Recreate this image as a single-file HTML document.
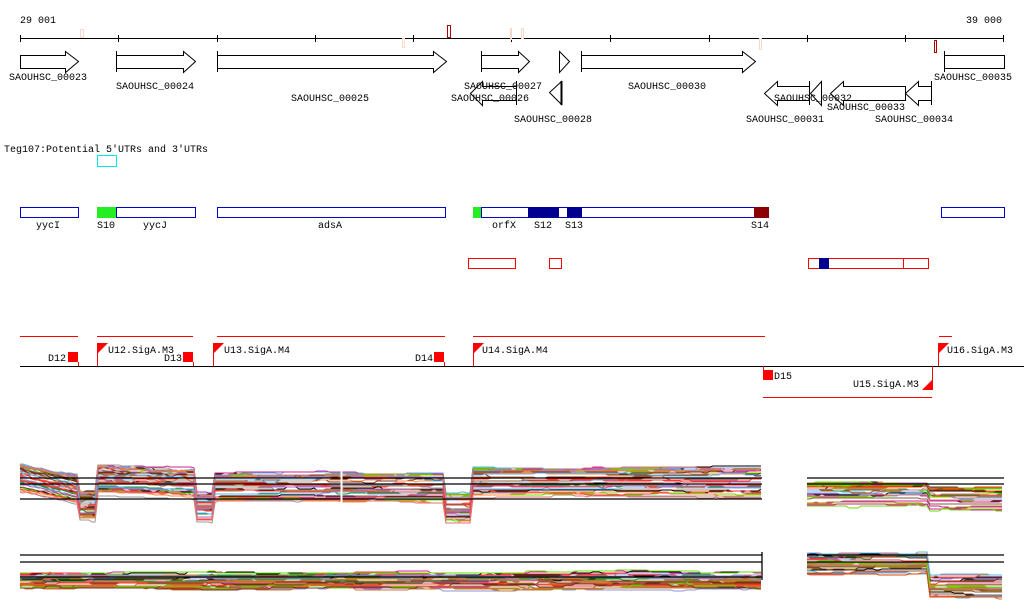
<!DOCTYPE html>
<html><head><meta charset="utf-8"><style>
html,body{margin:0;padding:0;background:#fff;}
svg{display:block;}
text{font-family:"Liberation Mono",monospace;font-size:10px;fill:#000;}
</style></head><body>
<svg id="s" width="1024" height="611" viewBox="0 0 1024 611" xmlns="http://www.w3.org/2000/svg">
<text x="20" y="23">29 001</text>
<text x="966" y="23">39 000</text>
<line x1="20" y1="38.5" x2="1004" y2="38.5" stroke="#000"/>
<g stroke="#000">
<line x1="20.5" y1="35" x2="20.5" y2="42"/><line x1="118.5" y1="35" x2="118.5" y2="42"/><line x1="217.5" y1="35" x2="217.5" y2="42"/><line x1="315.5" y1="35" x2="315.5" y2="42"/><line x1="413.5" y1="35" x2="413.5" y2="42"/><line x1="511.5" y1="35" x2="511.5" y2="42"/><line x1="610.5" y1="35" x2="610.5" y2="42"/><line x1="709.5" y1="35" x2="709.5" y2="42"/><line x1="807.5" y1="35" x2="807.5" y2="42"/><line x1="905.5" y1="35" x2="905.5" y2="42"/><line x1="1003.5" y1="35" x2="1003.5" y2="42"/>
</g>
<g fill="none">
<rect x="80.5" y="29.5" width="3" height="8" stroke="#f8d8c8"/>
<rect x="402.5" y="38.5" width="2" height="9" stroke="#f8d8c8"/>
<rect x="447.5" y="25.5" width="3" height="12" stroke="#b00000"/>
<rect x="510.5" y="28.5" width="1" height="11" stroke="#f8d8c8"/>
<rect x="521.5" y="28.5" width="2" height="10" stroke="#f8d8c8"/>
<rect x="759.5" y="38.5" width="2" height="11" stroke="#f8d8c8"/>
<rect x="934.5" y="40.5" width="2" height="12" stroke="#b00000"/>
</g>
<g fill="#fff" stroke="#000">
<polygon points="20.5,55.5 65.5,55.5 65.5,51.5 78.5,61.5 65.5,72.5 65.5,68.5 20.5,68.5"/>
<polygon points="116.5,55.5 183.5,55.5 183.5,51.5 195.5,61.5 183.5,72.5 183.5,68.5 116.5,68.5"/>
<line x1="116.5" y1="51" x2="116.5" y2="72"/>
<polygon points="217.5,55.5 433.5,55.5 433.5,51.5 446.5,61.5 433.5,72.5 433.5,68.5 217.5,68.5"/>
<line x1="217.5" y1="51" x2="217.5" y2="72"/>
<polygon points="481.5,55.5 518.5,55.5 518.5,51.5 529.5,61.5 518.5,72.5 518.5,68.5 481.5,68.5"/>
<line x1="481.5" y1="51" x2="481.5" y2="72"/>
<polygon points="516.5,86.5 482.5,86.5 482.5,81.5 470.5,93.5 482.5,105.5 482.5,100.5 516.5,100.5"/>
<line x1="516.5" y1="81" x2="516.5" y2="105"/>
<polygon points="559.5,51.5 569.5,61.5 559.5,72.5"/>
<polygon points="561.5,81.5 549.5,92.5 561.5,104.5"/>
<line x1="561.5" y1="81" x2="561.5" y2="105" stroke-width="2"/>
<polygon points="581.5,55.5 742.5,55.5 742.5,51.5 755.5,61.5 742.5,72.5 742.5,68.5 581.5,68.5"/>
<line x1="581.5" y1="51" x2="581.5" y2="72"/>
<polygon points="809.5,86.5 777.5,86.5 777.5,81.5 764.5,93.5 777.5,105.5 777.5,100.5 809.5,100.5"/>
<line x1="809.5" y1="81" x2="809.5" y2="105"/>
<polygon points="821.5,81.5 810.5,93.5 821.5,105.5"/>
<polygon points="905.5,86.5 843.5,86.5 843.5,81.5 830.5,93.5 843.5,105.5 843.5,100.5 905.5,100.5"/>
<polygon points="931.5,86.5 918.5,86.5 918.5,81.5 905.5,93.5 918.5,105.5 918.5,100.5 931.5,100.5"/>
<line x1="931.5" y1="81" x2="931.5" y2="105"/>
<rect x="944.5" y="55.5" width="60" height="13"/>
<line x1="944.5" y1="51" x2="944.5" y2="72"/>
</g>
<g text-anchor="middle">
<text x="48" y="80">SAOUHSC_00023</text>
<text x="155" y="89">SAOUHSC_00024</text>
<text x="330" y="101">SAOUHSC_00025</text>
<text x="503" y="89">SAOUHSC_00027</text>
<text x="490" y="101">SAOUHSC_00026</text>
<text x="553" y="122">SAOUHSC_00028</text>
<text x="667" y="89">SAOUHSC_00030</text>
<text x="785" y="122">SAOUHSC_00031</text>
<text x="813" y="101">SAOUHSC_00032</text>
<text x="866" y="110">SAOUHSC_00033</text>
<text x="914" y="122">SAOUHSC_00034</text>
<text x="973" y="80">SAOUHSC_00035</text>
</g>
<text x="4" y="152">Teg107:Potential 5′UTRs and 3′UTRs</text>
<rect x="97.5" y="155.5" width="19" height="11" fill="none" stroke="#00e8e8"/>
<g stroke="#0000cc" fill="#fff">
<rect x="20.5" y="207.5" width="58" height="10"/>
<rect x="116.5" y="207.5" width="79" height="10"/>
<rect x="217.5" y="207.5" width="228" height="10"/>
<rect x="481.5" y="207.5" width="287" height="10"/>
<rect x="941.5" y="207.5" width="63" height="10"/>
</g>
<rect x="97" y="207" width="19" height="11" fill="#22ee22"/>
<rect x="473" y="207" width="8" height="11" fill="#22ee22"/>
<rect x="528" y="207" width="31" height="11" fill="#000090"/>
<rect x="567" y="207" width="15" height="11" fill="#000090"/>
<rect x="754" y="207" width="15" height="11" fill="#8b0000"/>
<g text-anchor="middle">
<text x="48" y="228">yycI</text><text x="106" y="228">S10</text><text x="155" y="228">yycJ</text>
<text x="330" y="228">adsA</text><text x="504" y="228">orfX</text><text x="543" y="228">S12</text>
<text x="574" y="228">S13</text><text x="760" y="228">S14</text>
</g>
<g fill="none" stroke="#ff0000">
<rect x="468.5" y="258.5" width="47" height="10"/>
<rect x="549.5" y="258.5" width="12" height="10"/>
<rect x="808.5" y="258.5" width="120" height="10"/>
<line x1="903.5" y1="258" x2="903.5" y2="269"/>
</g>
<rect x="819" y="258" width="10" height="11" fill="#000090"/>
<g stroke="#ff0000">
<line x1="20" y1="336.5" x2="78" y2="336.5"/><line x1="97" y1="336.5" x2="193" y2="336.5"/>
<line x1="217" y1="336.5" x2="445" y2="336.5"/><line x1="473" y1="336.5" x2="765" y2="336.5"/>
<line x1="939" y1="336.5" x2="952" y2="336.5"/><line x1="763" y1="397.5" x2="932" y2="397.5"/>
</g>
<line x1="20" y1="366.5" x2="1024" y2="366.5" stroke="#000"/>
<g fill="#ff0000">
<rect x="68" y="352" width="10" height="10"/><rect x="183" y="352" width="10" height="10"/>
<rect x="434" y="352" width="10" height="10"/><rect x="763" y="370" width="10" height="10"/>
<polygon points="98,343 108,343 98,353"/><polygon points="214,343 224,343 214,353"/>
<polygon points="474,343 484,343 474,353"/><polygon points="939,343 949,343 939,353"/>
<polygon points="932,380 932,390 922,390"/>
</g>
<g stroke="#ff0000" fill="none">
<path d="M78.5 362 V366 M97.5 343 V366 M193.5 362 V366 M213.5 343 V366 M444.5 362 V366 M473.5 343 V366 M938.5 343 V366 M763.5 366 V375 M932.5 366 V390"/>
</g>
<text x="48" y="361">D12</text><text x="108" y="353">U12.SigA.M3</text>
<text x="164" y="361">D13</text><text x="224" y="353">U13.SigA.M4</text>
<text x="415" y="361">D14</text><text x="482" y="353">U14.SigA.M4</text>
<text x="774" y="379">D15</text><text x="853" y="387">U15.SigA.M3</text>
<text x="947" y="353">U16.SigA.M3</text>
<g id="tr"></g>
<g stroke="#000" stroke-width="1.3">
<line x1="20" y1="478" x2="762" y2="478"/><line x1="20" y1="484" x2="762" y2="484"/><line x1="20" y1="499" x2="762" y2="499"/>
<line x1="807" y1="478" x2="1004" y2="478"/><line x1="807" y1="484" x2="1004" y2="484"/>
<line x1="20" y1="555" x2="762" y2="555"/><line x1="20" y1="562" x2="762" y2="562"/><line x1="20" y1="577" x2="762" y2="577"/>
<line x1="807" y1="555" x2="1004" y2="555"/><line x1="807" y1="562" x2="1004" y2="562"/>
<line x1="762" y1="552" x2="762" y2="580"/>
</g>
<line x1="341.5" y1="460" x2="341.5" y2="512" stroke="#fff" stroke-width="2"/>
</svg>
<script>
(function(){
var seed=11;function r(){seed=(seed*16807)%2147483647;return seed/2147483647;}
var cols=["#c87533","#a08a20","#66dd00","#ff3333","#cc2299","#e07070","#5ab4f0","#9090d0","#000","#8b5a3c","#ff8844","#228833","#dd4400","#b060b0","#703020","#999","#c87533","#a08a20"];
function prof(segs,x){for(var i=0;i<segs.length;i++){if(x<segs[i][1])return segs[i][2]+(segs[i][3]||0)*(x-segs[i][0])/(segs[i][1]-segs[i][0]);}return segs[segs.length-1][2];}
var panels=[
 {x0:20,x1:762,segs:[[20,78,464,12],[78,97,492],[97,195,466,4],[195,213,494],[213,445,474],[445,473,494],[473,762,468]],spread:30,n:38},
 {x0:807,x1:1004,segs:[[807,930,483],[930,1004,488]],spread:24,n:30},
 {x0:20,x1:762,segs:[[20,762,573]],spread:16,n:38},
 {x0:807,x1:1004,segs:[[807,930,553],[930,1004,576]],spread:22,n:30}];
var g=document.getElementById("tr"),out="";
panels.forEach(function(p){
 for(var k=0;k<p.n;k++){
  var off=Math.pow(r(),1.4)*p.spread, c=cols[Math.floor(r()*cols.length)], pts=[], n=0;
  for(var x=p.x0;x<=p.x1;x+=3){ if(r()<0.12){n+=(r()-0.5)*4; n*=0.8;} var y=(prof(p.segs,x)+off+n).toFixed(0); pts.push(x+","+y);}
  out+='<polyline fill="none" stroke="'+c+'" stroke-width="1" points="'+pts.join(" ")+'"/>';
 }});
g.innerHTML=out;
})();
</script>
</body></html>
